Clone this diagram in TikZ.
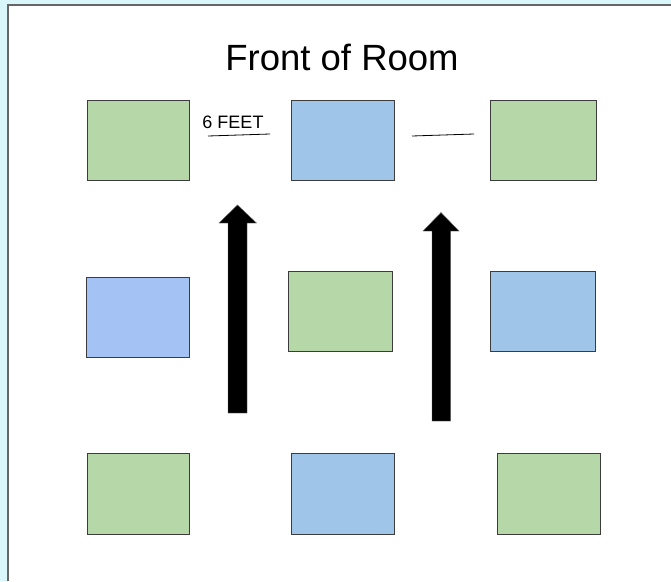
\documentclass[tikz,border=0pt]{standalone}
\usepackage{fontspec}
\setmainfont{Liberation Sans}
\definecolor{bgcyan}{HTML}{D9F6FB}
\definecolor{framegray}{HTML}{666666}
\definecolor{deskgreen}{HTML}{B6D7A8}
\definecolor{deskblue}{HTML}{9FC5E8}
\definecolor{deskcorn}{HTML}{A4C2F4}
\definecolor{deskedge}{HTML}{3C3C3C}
\tikzset{
  desk/.style={draw=deskedge, line width=1.2pt, rectangle, inner sep=0pt, anchor=north west},
  gdesk/.style={desk, fill=deskgreen},
  bdesk/.style={desk, fill=deskblue},
  cdesk/.style={desk, fill=deskcorn},
  gap/.style={draw=black, line width=0.8pt},
  blockarrow/.style={fill=black, draw=black!60, line width=0.4pt}
}
\begin{document}
\begin{tikzpicture}[x=1pt,y=-1pt]
\useasboundingbox (0,0) rectangle (671,581);
\fill[bgcyan] (0,0) rectangle (671,581);
\fill[white] (8,5) rectangle (671,581);
\draw[framegray, line width=2.4pt] (8,581) -- (8,5) -- (671,5);

\node[anchor=base, font=\fontsize{36.5}{40}\selectfont] (title) at (342,70) {Front of Room};

% row 1
\node[gdesk, minimum width=102pt, minimum height=80pt] (g1) at (87,100) {};
\node[bdesk, minimum width=103pt, minimum height=80pt] (b1) at (291,100) {};
\node[gdesk, minimum width=106pt, minimum height=80pt] (g2) at (490,100) {};
% row 2
\node[cdesk, minimum width=103pt, minimum height=80pt] (c2) at (86,277) {};
\node[gdesk, minimum width=104pt, minimum height=80pt] (g3) at (288,271) {};
\node[bdesk, minimum width=105pt, minimum height=80pt] (b2) at (490,271) {};
% row 3
\node[gdesk, minimum width=102pt, minimum height=81pt] (g4) at (87,453) {};
\node[bdesk, minimum width=103pt, minimum height=81pt] (b3) at (291,453) {};
\node[gdesk, minimum width=103pt, minimum height=81pt] (g5) at (497,453) {};

% distance label and lines
\node[anchor=base, font=\fontsize{18}{21}\selectfont] (feet) at (233,128) {6 FEET};
\coordinate (l1a) at (208,136);
\coordinate (l1b) at (270,134);
\coordinate (l2a) at (412,136);
\coordinate (l2b) at (474,134);
\draw[gap] (l1a) -- (l1b);
\draw[gap] (l2a) -- (l2b);

% block arrows
\fill[blockarrow] (228,413) -- (228,223) -- (219,223) -- (237.5,205) -- (256.5,223) -- (247,223) -- (247,413) -- cycle;
\fill[blockarrow] (432,421) -- (432,231) -- (423,231) -- (441,212.5) -- (459,231) -- (450.5,231) -- (450.5,421) -- cycle;
\end{tikzpicture}
\end{document}
